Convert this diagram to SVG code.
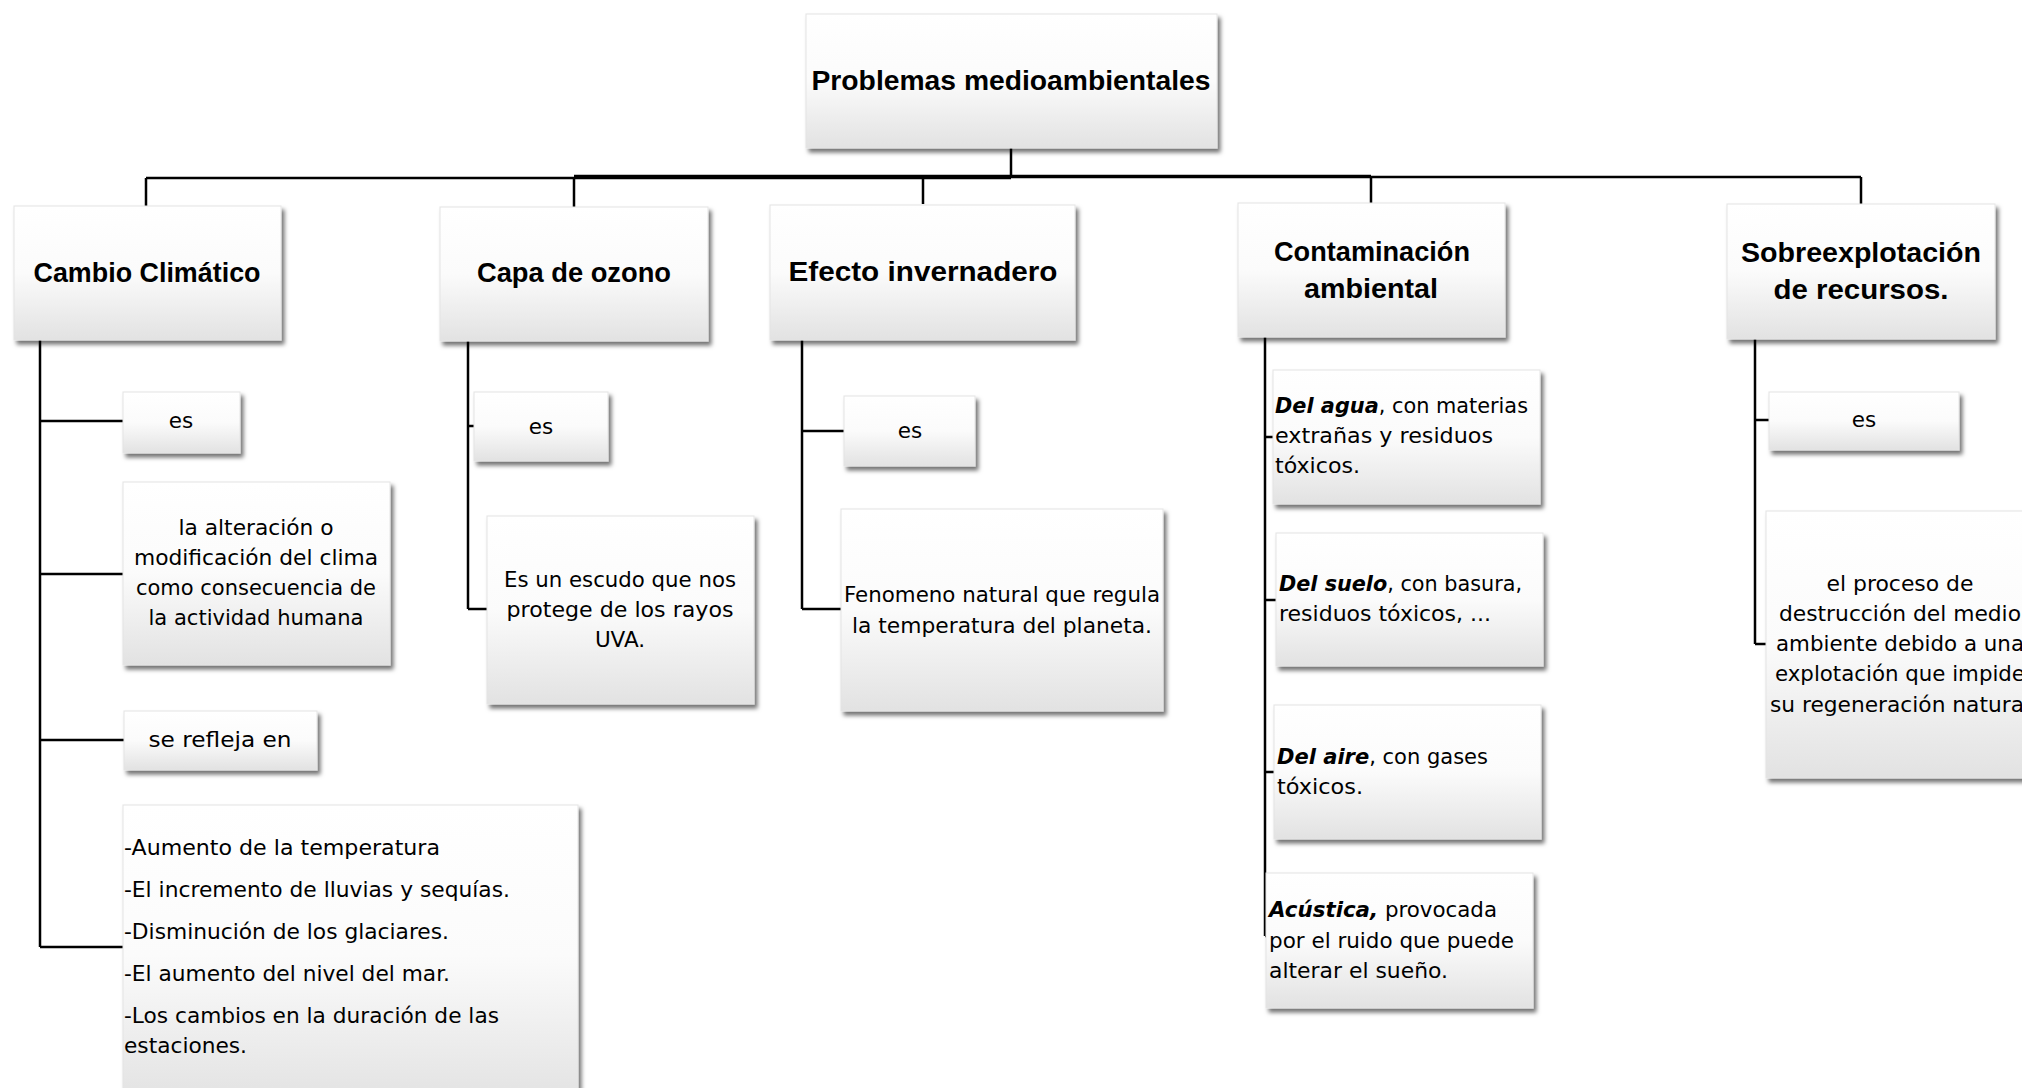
<svg xmlns="http://www.w3.org/2000/svg" width="2022" height="1088" viewBox="0 0 2022 1088">
<defs>
<linearGradient id="g" x1="0" y1="0" x2="0" y2="1">
<stop offset="0" stop-color="#ffffff"/>
<stop offset="0.5" stop-color="#fbfbfb"/>
<stop offset="1" stop-color="#e2e2e2"/>
</linearGradient>
<filter id="sh" x="-10%" y="-10%" width="125%" height="130%">
<feDropShadow dx="3" dy="4" stdDeviation="2" flood-color="#000" flood-opacity="0.55"/>
</filter>
</defs>
<style>
.box{fill:url(#g);stroke:#e4e4e4;stroke-width:1;filter:url(#sh)}
.t{font-family:"Liberation Sans",Arial,sans-serif;font-weight:bold;font-size:27px;fill:#000}
.b{font-family:"DejaVu Sans","Liberation Sans",sans-serif;font-size:21.5px;fill:#000}
.bi{font-weight:bold;font-style:italic}
.c{text-anchor:middle}
.ln{stroke:#000;stroke-width:2.5;fill:none}
</style>
<rect width="2022" height="1088" fill="#fff"/>

<g id="connectors">
<path class="ln" d="M1011 148V177"/>
<path class="ln" d="M146 178H1011" />
<path class="ln" d="M574 176.5H1371" style="stroke-width:3.5"/>
<path class="ln" d="M1371 177H1861" />
<path class="ln" d="M146 178V206M574 177V207M923 177V204M1371 177V203M1861 177V204"/>
<path class="ln" d="M40 340V947M40 421H123M40 574H123M40 740H124M40 947H123"/>
<path class="ln" d="M468 341V609M468 426H474M468 609H487"/>
<path class="ln" d="M802 339V609M802 431H844M802 609H841"/>
<path class="ln" d="M1265 337V936M1265 437H1273M1265 600H1276M1265 772H1274M1265 936H1267"/>
<path class="ln" d="M1755 339V644M1755 420H1769M1755 644H1766"/>
</g>

<g id="n-problemas">
<rect class="box" x="806" y="14" width="411" height="134"/>
<text class="t c" x="1011" y="90" textLength="399" lengthAdjust="spacingAndGlyphs">Problemas medioambientales</text>
</g>

<g id="n-cambio">
<rect class="box" x="14" y="206" width="267" height="134"/>
<text class="t c" x="147" y="282" textLength="227" lengthAdjust="spacingAndGlyphs">Cambio Climático</text>
</g>
<g id="n-cambio-es">
<rect class="box" x="123" y="392" width="117" height="61"/>
<text class="b c" x="181" y="428">es</text>
</g>
<g id="n-cambio-def">
<rect class="box" x="123" y="482" width="267" height="183"/>
<text class="b c" x="256" y="535" textLength="155" lengthAdjust="spacingAndGlyphs">la alteración o</text>
<text class="b c" x="256" y="565" textLength="244" lengthAdjust="spacingAndGlyphs">modificación del clima</text>
<text class="b c" x="256" y="595" textLength="240" lengthAdjust="spacingAndGlyphs">como consecuencia de</text>
<text class="b c" x="256" y="625" textLength="215" lengthAdjust="spacingAndGlyphs">la actividad humana</text>
</g>
<g id="n-cambio-refleja">
<rect class="box" x="124" y="711" width="193" height="59"/>
<text class="b c" x="220" y="747" textLength="143" lengthAdjust="spacingAndGlyphs">se refleja en</text>
</g>
<g id="n-cambio-lista">
<rect class="box" x="123" y="805" width="455" height="300"/>
<text class="b" x="124" y="855" textLength="316" lengthAdjust="spacingAndGlyphs">-Aumento de la temperatura</text>
<text class="b" x="124" y="897" textLength="386" lengthAdjust="spacingAndGlyphs">-El incremento de lluvias y sequías.</text>
<text class="b" x="124" y="939" textLength="325" lengthAdjust="spacingAndGlyphs">-Disminución de los glaciares.</text>
<text class="b" x="124" y="981" textLength="326" lengthAdjust="spacingAndGlyphs">-El aumento del nivel del mar.</text>
<text class="b" x="124" y="1023" textLength="375" lengthAdjust="spacingAndGlyphs">-Los cambios en la duración de las</text>
<text class="b" x="124" y="1053" textLength="123" lengthAdjust="spacingAndGlyphs">estaciones.</text>
</g>

<g id="n-capa">
<rect class="box" x="440" y="207" width="268" height="134"/>
<text class="t c" x="574" y="282" textLength="194" lengthAdjust="spacingAndGlyphs">Capa de ozono</text>
</g>
<g id="n-capa-es">
<rect class="box" x="474" y="392" width="134" height="69"/>
<text class="b c" x="541" y="434">es</text>
</g>
<g id="n-capa-def">
<rect class="box" x="487" y="516" width="267" height="188"/>
<text class="b c" x="620" y="587" textLength="232" lengthAdjust="spacingAndGlyphs">Es un escudo que nos</text>
<text class="b c" x="620" y="617" textLength="227" lengthAdjust="spacingAndGlyphs">protege de los rayos</text>
<text class="b c" x="620" y="647">UVA.</text>
</g>

<g id="n-efecto">
<rect class="box" x="770" y="205" width="305" height="135"/>
<text class="t c" x="923" y="281" textLength="269" lengthAdjust="spacingAndGlyphs">Efecto invernadero</text>
</g>
<g id="n-efecto-es">
<rect class="box" x="844" y="396" width="131" height="70"/>
<text class="b c" x="910" y="438">es</text>
</g>
<g id="n-efecto-def">
<rect class="box" x="841" y="509" width="322" height="202"/>
<text class="b c" x="1002" y="602" textLength="316" lengthAdjust="spacingAndGlyphs">Fenomeno natural que regula</text>
<text class="b c" x="1002" y="633" textLength="300" lengthAdjust="spacingAndGlyphs">la temperatura del planeta.</text>
</g>

<g id="n-contaminacion">
<rect class="box" x="1238" y="203" width="267" height="134"/>
<text class="t c" x="1372" y="261" textLength="196" lengthAdjust="spacingAndGlyphs">Contaminación</text>
<text class="t c" x="1371" y="298" textLength="134" lengthAdjust="spacingAndGlyphs">ambiental</text>
</g>
<g id="n-agua">
<rect class="box" x="1273" y="370" width="267" height="134"/>
<text class="b" x="1275" y="413" textLength="253" lengthAdjust="spacingAndGlyphs"><tspan class="bi">Del agua</tspan>, con materias</text>
<text class="b" x="1275" y="443" textLength="218" lengthAdjust="spacingAndGlyphs">extrañas y residuos</text>
<text class="b" x="1275" y="473" textLength="85" lengthAdjust="spacingAndGlyphs">tóxicos.</text>
</g>
<g id="n-suelo">
<rect class="box" x="1276" y="533" width="267" height="133"/>
<text class="b" x="1279" y="591" textLength="243" lengthAdjust="spacingAndGlyphs"><tspan class="bi">Del suelo</tspan>, con basura,</text>
<text class="b" x="1279" y="621" textLength="212" lengthAdjust="spacingAndGlyphs">residuos tóxicos, ...</text>
</g>
<g id="n-aire">
<rect class="box" x="1274" y="705" width="267" height="134"/>
<text class="b" x="1277" y="764" textLength="211" lengthAdjust="spacingAndGlyphs"><tspan class="bi">Del aire</tspan>, con gases</text>
<text class="b" x="1277" y="794" textLength="86" lengthAdjust="spacingAndGlyphs">tóxicos.</text>
</g>
<g id="n-acustica">
<rect class="box" x="1266" y="873" width="267" height="135"/>
<text class="b" x="1269" y="917" textLength="228" lengthAdjust="spacingAndGlyphs"><tspan class="bi">Acústica,</tspan>  provocada</text>
<text class="b" x="1269" y="948" textLength="245" lengthAdjust="spacingAndGlyphs">por el ruido que puede</text>
<text class="b" x="1269" y="978" textLength="179" lengthAdjust="spacingAndGlyphs">alterar el sueño.</text>
</g>

<g id="n-sobre">
<rect class="box" x="1727" y="204" width="268" height="135"/>
<text class="t c" x="1861" y="262" textLength="240" lengthAdjust="spacingAndGlyphs">Sobreexplotación</text>
<text class="t c" x="1861" y="299" textLength="175" lengthAdjust="spacingAndGlyphs">de recursos.</text>
</g>
<g id="n-sobre-es">
<rect class="box" x="1769" y="392" width="190" height="58"/>
<text class="b c" x="1864" y="427">es</text>
</g>
<g id="n-sobre-def">
<rect class="box" x="1766" y="511" width="270" height="267"/>
<text class="b c" x="1900" y="591" textLength="147" lengthAdjust="spacingAndGlyphs">el proceso de</text>
<text class="b c" x="1900" y="621" textLength="242" lengthAdjust="spacingAndGlyphs">destrucción del medio</text>
<text class="b c" x="1900" y="651" textLength="248" lengthAdjust="spacingAndGlyphs">ambiente debido a una</text>
<text class="b c" x="1900" y="681" textLength="250" lengthAdjust="spacingAndGlyphs">explotación que impide</text>
<text class="b c" x="1900" y="712" textLength="260" lengthAdjust="spacingAndGlyphs">su regeneración natural</text>
</g>
</svg>
